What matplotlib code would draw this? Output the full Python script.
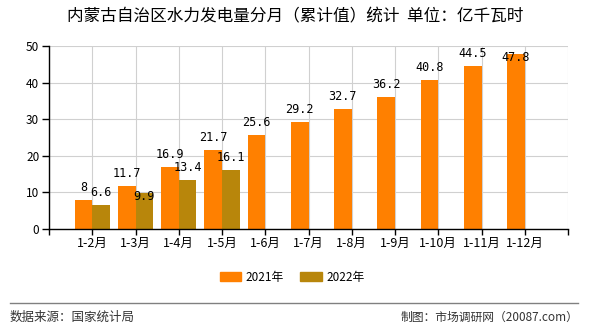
import matplotlib.pyplot as plt
import numpy as np

plt.rcParams['font.family'] = ['Noto Sans CJK SC', 'DejaVu Sans']

# 累计值，单位：亿千瓦时
months = ["1-2月", "1-3月", "1-4月", "1-5月", "1-6月", "1-7月",
          "1-8月", "1-9月", "1-10月", "1-11月", "1-12月"]
y2021 = [8, 11.7, 16.9, 21.7, 25.6, 29.2, 32.7, 36.2, 40.8, 44.5, 47.8]
y2022 = [6.6, 9.9, 13.4, 16.1]

c2021 = "#FF8000"
c2022 = "#B8860B"

fig = plt.figure(figsize=(5.9, 3.3), dpi=100)
ax = fig.add_axes([49 / 590, 1 - 229 / 330, 519 / 590, 183 / 330])

x = np.arange(len(months))
w = 0.41
ax.bar(x - w / 2, y2021, width=w, color=c2021, zorder=2)
ax.bar(x[:len(y2022)] + w / 2, y2022, width=w, color=c2022, zorder=2)

# data labels; a couple sit inside the bar top to avoid overlaps
inside21 = {10}
inside22 = {1}
for i, v in enumerate(y2021):
    dy = -2.8 if i in inside21 else 1.6
    ax.text(x[i] - w / 2, v + dy, f"{v:g}", ha="center", va="bottom",
            fontsize=8.5, family="DejaVu Sans Mono", zorder=3)
for i, v in enumerate(y2022):
    dy = -2.8 if i in inside22 else 1.6
    ax.text(x[i] + w / 2, v + dy, f"{v:g}", ha="center", va="bottom",
            fontsize=8.5, family="DejaVu Sans Mono", zorder=3)

ax.set_xlim(-1, len(months))
ax.set_ylim(0, 50)
ax.set_xticks(np.arange(-1, len(months) + 1))
ax.set_xticklabels([""] + months + [""], fontsize=9)
ax.set_yticks([0, 10, 20, 30, 40, 50])
ax.tick_params(axis="y", labelsize=8.5, length=5, width=1, pad=2)
ax.tick_params(axis="x", length=4, width=1, pad=2)
ax.grid(True, color="#D0D0D0", linewidth=0.8, zorder=0)
for s in ["top", "right"]:
    ax.spines[s].set_visible(False)
ax.spines["left"].set_linewidth(1)
ax.spines["bottom"].set_linewidth(1)

fig.text(0.5, 1 - 17 / 330, "内蒙古自治区水力发电量分月（累计值）统计  单位：亿千瓦时",
         ha="center", va="center", fontsize=12)

# legend
handles = [plt.Rectangle((0, 0), 1, 1, color=c2021),
           plt.Rectangle((0, 0), 1, 1, color=c2022)]
fig.legend(handles, ["2021年", "2022年"], loc="center",
           bbox_to_anchor=(0.495, 1 - 277 / 330), ncol=2, frameon=False,
           fontsize=8.5, handlelength=1.8, handleheight=0.9, columnspacing=1.4,
           handletextpad=0.4)

fig.add_artist(plt.Line2D([10 / 590, 578 / 590], [1 - 303 / 330] * 2,
                          color="#808080", linewidth=1))
fig.text(10 / 590, 1 - 317 / 330, "数据来源：国家统计局", ha="left", va="center",
         fontsize=9, color="#333333")
fig.text(578 / 590, 1 - 317 / 330, "制图：市场调研网（20087.com）", ha="right",
         va="center", fontsize=8.5, color="#333333")

fig.savefig("out.png", dpi=100)
